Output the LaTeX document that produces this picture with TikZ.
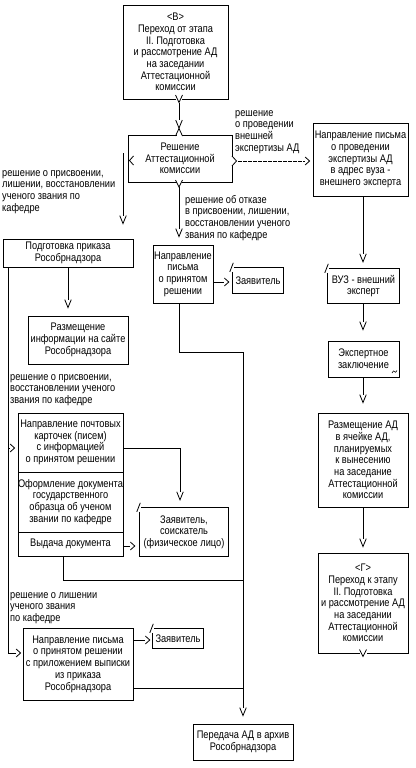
\documentclass[tikz,border=0pt]{standalone}
\usepackage{fontspec}
\setmainfont{Liberation Sans}[FakeStretch=0.84]
\usetikzlibrary{arrows.meta,calc}

\pgfdeclarearrow{
  name = Vg,
  parameters = {\the\pgfarrowlength,\the\pgfarrowwidth},
  setup code = {
    \pgfarrowssettipend{0pt}
    \pgfarrowssetlineend{-\pgfarrowlength}
    \pgfarrowssetvisualbackend{-\pgfarrowlength}
    \pgfarrowssetbackend{-\pgfarrowlength}
    \pgfarrowshullpoint{0pt}{0pt}
    \pgfarrowsupperhullpoint{-\pgfarrowlength}{.5\pgfarrowwidth}
    \pgfarrowssavethe\pgfarrowlength
    \pgfarrowssavethe\pgfarrowwidth
  },
  drawing code = {
    \pgfsetdash{}{0pt}
    \pgfpathmoveto{\pgfqpoint{-\pgfarrowlength}{.5\pgfarrowwidth}}
    \pgfpathlineto{\pgfpointorigin}
    \pgfpathlineto{\pgfqpoint{-\pgfarrowlength}{-.5\pgfarrowwidth}}
    \pgfusepathqstroke
  },
  defaults = {length = 8pt, width = 6pt}
}

\newcommand\mkslashbox[1]{%
  \draw[conn] ([yshift=-4pt]#1.north west) -- (#1.south west) -- (#1.south east) -- (#1.north east) -- ([xshift=1pt]#1.north west);
  \draw[conn] ([shift={(-3pt,-4pt)}]#1.north west) -- ([shift={(0.5pt,5pt)}]#1.north west);
}

\tikzset{
  tf/.style={font={\fontsize{11}{11.7}\selectfont}},
  box/.style={draw, line width=0.8pt, inner sep=0pt, align=center, tf},
  plain/.style={inner sep=0pt, align=center, tf},
  lbl/.style={inner sep=0pt, align=left, anchor=north west, tf},
  conn/.style={line width=0.8pt},
  vtip/.style={-{Vg[length=8pt,width=6.5pt]}},
  htip/.style={-{Vg[length=4.5pt,width=8pt]}},
}

\begin{document}
\begin{tikzpicture}[x=1pt,y=-1pt]
\useasboundingbox[fill=white] (0,0) rectangle (415,768);

% boxes
\node[box, minimum width=105pt, minimum height=94pt] (B) at (175.5,52)
  {<В>\\Переход от этапа\\II. Подготовка\\и рассмотрение АД\\на заседании\\Аттестационной\\комиссии};
\node[box, minimum width=104pt, minimum height=47pt] (dec) at (180,158.5)
  {Решение\\Аттестационной\\комиссии};
\node[box, minimum width=95pt, minimum height=73pt] (letterExp) at (360.5,159.5)
  {Направление письма\\о проведении\\экспертизы АД\\в адрес вуза -\\внешнего эксперта};
\node[box, minimum width=130pt, minimum height=28pt] (prikaz) at (68,253)
  {Подготовка приказа\\Рособрнадзора};
\node[box, minimum width=60pt, minimum height=58pt] (letterRes) at (183,274)
  {Направление\\письма\\о принятом\\решении};
\node[plain, minimum width=50pt, minimum height=25pt] (zayav1) at (258,280.5) {Заявитель};
\node[plain, minimum width=71pt, minimum height=34pt] (vuz) at (363.5,286)
  {ВУЗ - внешний\\эксперт};
\node[box, minimum width=71pt, minimum height=36pt] (expert) at (363.5,359)
  {Экспертное\\заключение};
\node[box, minimum width=100pt, minimum height=48pt] (site) at (78,340)
  {Размещение\\информации на сайте\\Рособрнадзора};
\node[box, minimum width=90pt, minimum height=94pt] (razm) at (363,460)
  {Размещение АД\\в ячейке АД,\\планируемых\\к вынесению\\на заседание\\Аттестационной\\комиссии};
\node[box, minimum width=105pt, minimum height=59pt] (g1) at (70.5,442.5)
  {Направление почтовых\\карточек (писем)\\с информацией\\о принятом решении};
\node[box, minimum width=105pt, minimum height=60pt] (g2) at (70.5,502)
  {Оформление документа\\государственного\\образца об ученом\\звании по кафедре};
\node[box, minimum width=105pt, minimum height=24pt] (g3) at (70.5,544)
  {Выдача документа};
\node[plain, minimum width=88pt, minimum height=48pt] (zayav2) at (184,532)
  {Заявитель,\\соискатель\\(физическое лицо)};
\node[box, minimum width=90pt, minimum height=100pt] (G) at (363,603)
  {<Г>\\Переход к этапу\\II. Подготовка\\и рассмотрение АД\\на заседании\\Аттестационной\\комиссии};
\node[box, minimum width=110pt, minimum height=72pt] (letterFinal) at (78,664)
  {Направление письма\\о принятом решении\\с приложением выписки\\из приказа\\Рособрнадзора};
\node[plain, minimum width=50pt, minimum height=19pt] (zayav3) at (178,638.5) {Заявитель};
\node[box, minimum width=100pt, minimum height=36pt] (archive) at (243,742)
  {Передача АД в архив\\Рособрнадзора};

\mkslashbox{zayav1}
\mkslashbox{vuz}
\mkslashbox{zayav2}
\mkslashbox{zayav3}

% labels
\node[lbl] (l1) at (2,168) {\rule{0pt}{8pt}решение о присвоении,\\лишении, восстановлении\\ученого звания по\\кафедре};
\node[lbl] (l2) at (235,108) {\rule{0pt}{8pt}решение\\о проведении\\внешней\\экспертизы АД};
\node[lbl] (l3) at (185,195) {\rule{0pt}{8pt}решение об отказе\\в присвоении, лишении,\\восстановлении ученого\\звания по кафедре};
\node[lbl] (l4) at (10,372) {\rule{0pt}{8pt}решение о присвоении,\\восстановлении ученого\\звания по кафедре};
\node[lbl] (l5) at (10,590) {\rule{0pt}{8pt}решение о лишении\\ученого звания\\по кафедре};

% port marks
\fill[white] (176,97.5) rectangle (182,100.5);
\draw[conn] (175.5,95) -- (179,102.5) -- (182.5,95);
\fill[white] (176.5,133.5) rectangle (181.5,136.5);
\draw[conn] (175.5,136) -- (179,128.5) -- (182.5,136);
\fill[white] (176.5,180.5) rectangle (181.5,183.5);
\draw[conn] (175.5,180) -- (179,187) -- (182.5,180);
\draw[conn] (133.5,156) -- (129.5,160.5) -- (133.5,165);
\fill[white] (231,156) rectangle (233,166);
\draw[conn] (232,156) -- (236.5,161) -- (232,166);
\fill[white] (359.5,651.5) rectangle (366.5,654.5);
\draw[conn] (359.5,649.5) -- (363,656.5) -- (366.5,649.5);
\draw[line width=0.6pt] (392,373) .. controls (393,370.5) and (394,370.5) .. (394.5,371.5) .. controls (395,372.5) and (396,373) .. (397,370.5);

% coordinates
\coordinate (pB) at (179,102.5);
\coordinate (pD) at (179,187);
\coordinate (pL) at (123,153);
\coordinate (pR) at (238,161);
\coordinate (lv) at (8,267);
\coordinate (b1) at (8,448);
\coordinate (b2) at (8,653);
\coordinate (c1) at (180,448);
\coordinate (j1) at (243,352);
\coordinate (j2) at (63,580);
\coordinate (j3) at (243,580);
\coordinate (j4) at (243,688);
\coordinate (r1) at (363,0);

% connectors
\draw[conn,vtip,shorten >=6.5pt] (pB) -- (pB |- dec.north);
\draw[conn,vtip,shorten >=8pt] (pD) -- (pD |- letterRes.north);
\draw[conn,vtip,shorten >=15pt] (pL) -- (pL |- prikaz.north);
\draw[conn,dashed,dash pattern=on 3.5pt off 1.5pt,htip,shorten >=3pt] (pR) -- (pR -| letterExp.west);
\draw[conn,vtip,shorten >=7pt] (letterExp.south -| r1) -- (vuz.north -| r1);
\draw[conn,vtip,shorten >=11pt] (vuz.south -| r1) -- (expert.north -| r1);
\draw[conn,vtip,shorten >=10pt] (expert.south -| r1) -- (razm.north -| r1);
\draw[conn,vtip,shorten >=6pt] (razm.south -| r1) -- (G.north -| r1);
\draw[conn,htip,shorten >=4pt] (letterRes.east |- 0,282) -- (zayav1.west |- 0,282);
\draw[conn,vtip,shorten >=8pt] (letterRes.south -| pB) |- (j1) -- (j1 |- archive.north);
\draw[conn,vtip,shorten >=8pt] (prikaz.south) -- (prikaz.south |- site.north);
\draw[conn,htip,shorten >=2pt] (lv) |- (b2 -| letterFinal.west);
\draw[conn,htip,shorten >=3pt] (b1) -- (b1 -| g1.west);
\draw[conn,vtip,shorten >=8pt] (g1.east |- c1) -| (c1 |- zayav2.north);
\draw[conn,htip,shorten >=5pt] (g3.east |- 0,546) -- (zayav2.west |- 0,546);
\draw[conn] (g3.south -| j2) -- (j2) -- (j3);
\draw[conn,htip,shorten >=3pt] (letterFinal.east |- 0,640) -- (zayav3.west |- 0,640);
\draw[conn] (letterFinal.east |- j4) -- (j4);
\end{tikzpicture}
\end{document}
